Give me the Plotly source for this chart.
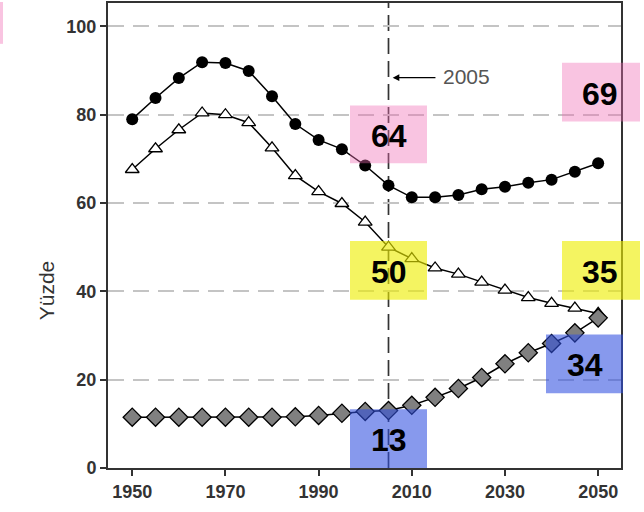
import plotly.graph_objects as go

# Years and the three percentage series
years = list(range(1950, 2055, 5))
toplam = [79.0, 83.8, 88.3, 91.9, 91.7, 89.9, 84.2, 77.9, 74.3, 72.2, 68.5,
          64.0, 61.3, 61.3, 61.8, 63.1, 63.7, 64.6, 65.3, 67.1, 69.0]
genc = [67.6, 72.3, 76.6, 80.4, 80.0, 78.2, 72.5, 66.2, 62.6, 59.9, 55.7,
        50.0, 47.4, 45.3, 43.9, 42.1, 40.3, 38.6, 37.3, 36.2, 35.0]
yasli = [11.5, 11.5, 11.5, 11.5, 11.5, 11.5, 11.5, 11.6, 11.9, 12.4, 12.8,
         13.0, 14.2, 16.0, 18.0, 20.5, 23.6, 26.1, 28.2, 30.6, 34.0]

x_ticks = [1950, 1970, 1990, 2010, 2030, 2050]
y_ticks = [0, 20, 40, 60, 80, 100]
ref_year = 2005

XR = [1944.8, 2054.9]
YR = [0, 105.3]
W, H = 644, 512
ML, MR, MT, MB = 108, 23, 1, 44

fig = go.Figure()

fig.add_trace(go.Scatter(
    x=years, y=toplam, mode="lines+markers",
    line=dict(color="black", width=1.5),
    marker=dict(symbol="circle", size=12, color="black"),
    showlegend=False))
fig.add_trace(go.Scatter(
    x=years, y=genc, mode="lines+markers",
    line=dict(color="black", width=1.5),
    marker=dict(symbol="triangle-up", size=12, color="white",
                line=dict(color="black", width=1.3)),
    showlegend=False))
fig.add_trace(go.Scatter(
    x=years, y=yasli, mode="lines+markers",
    line=dict(color="black", width=1.5),
    marker=dict(symbol="diamond", size=14, color="#808080",
                line=dict(color="black", width=1.3)),
    showlegend=False))


def px_to_paper_x(px):
    return (px - ML) / (W - ML - MR)


def px_to_paper_y(py):
    return (H - MB - py) / (H - MT - MB)


shapes = []
# reference year marker line
shapes.append(dict(type="line", xref="x", yref="paper", x0=ref_year, x1=ref_year,
                   y0=0, y1=1, layer="below",
                   line=dict(color="#333333", width=1.7, dash="16px,7px")))

# highlight boxes behind the value labels (pixel extents)
boxes = [
    ((350, 427, 104, 162), "rgba(240,108,180,0.40)"),
    ((562, 640, 61, 120), "rgba(240,108,180,0.40)"),
    ((350, 427, 240, 299), "rgba(238,238,0,0.62)"),
    ((562, 640, 240, 299), "rgba(238,238,0,0.62)"),
    ((350, 427, 409, 468), "rgba(48,80,224,0.58)"),
    ((546, 623, 334, 393), "rgba(48,80,224,0.58)"),
    ((-10, 3, 0, 42), "rgba(240,108,180,0.40)"),
]
for (x0, x1, y0, y1), col in boxes:
    shapes.append(dict(type="rect", xref="paper", yref="paper",
                       x0=px_to_paper_x(x0), x1=px_to_paper_x(x1),
                       y0=px_to_paper_y(y1), y1=px_to_paper_y(y0),
                       fillcolor=col, line=dict(width=0), layer="above"))

annotations = []
labels = [
    (ref_year, 75.1, toplam[years.index(2005)]),
    (2050.4, 84.8, toplam[years.index(2050)]),
    (ref_year, 44.4, genc[years.index(2005)]),
    (2050.4, 44.4, genc[years.index(2050)]),
    (ref_year, 6.4, yasli[years.index(2005)]),
    (2047.2, 23.4, yasli[years.index(2050)]),
]
for lx, ly, val in labels:
    annotations.append(dict(x=lx, y=ly, xref="x", yref="y", showarrow=False,
                            text=f"{val:.0f}",
                            font=dict(family="Liberation Sans, Arial", size=32,
                                      color="black", weight="bold")))

# arrow pointing at the reference year
annotations.append(dict(x=2005.9, y=88.4, xref="x", yref="y",
                        ax=2015.4, ay=88.4, axref="x", ayref="y",
                        text="", showarrow=True, arrowhead=2, arrowsize=1.2,
                        arrowwidth=1.1, arrowcolor="black"))
annotations.append(dict(x=2016.3, y=88.6, xref="x", yref="y", showarrow=False,
                        xanchor="left", text=str(ref_year),
                        font=dict(family="Liberation Sans, Arial", size=21,
                                  color="#555555")))

# y-axis title
annotations.append(dict(x=px_to_paper_x(33), y=px_to_paper_y(290),
                        xref="paper", yref="paper", showarrow=False,
                        text="Yüzde", textangle=-90,
                        font=dict(family="Liberation Sans, Arial", size=21,
                                  color="#333333")))

tick_font = dict(family="Liberation Sans, Arial", size=18,
                 color="#333333", weight="bold")

fig.update_layout(
    width=W, height=H,
    margin=dict(l=ML, r=MR, t=MT, b=MB),
    paper_bgcolor="white", plot_bgcolor="white",
    shapes=shapes, annotations=annotations,
    xaxis=dict(range=XR, tickvals=x_ticks, showgrid=False, zeroline=False,
               showline=True, linecolor="#333333", linewidth=2, mirror=True,
               ticks="outside", ticklen=6, tickwidth=1.5, tickcolor="#333333",
               tickfont=tick_font),
    yaxis=dict(range=YR, tickvals=y_ticks, zeroline=False,
               showgrid=True, gridcolor="#c4c4c4", gridwidth=2,
               griddash="16px,9px",
               showline=True, linecolor="#333333", linewidth=2, mirror=True,
               ticks="outside", ticklen=6, tickwidth=1.5, tickcolor="#333333",
               tickfont=tick_font),
)

fig.write_html("out.html")
